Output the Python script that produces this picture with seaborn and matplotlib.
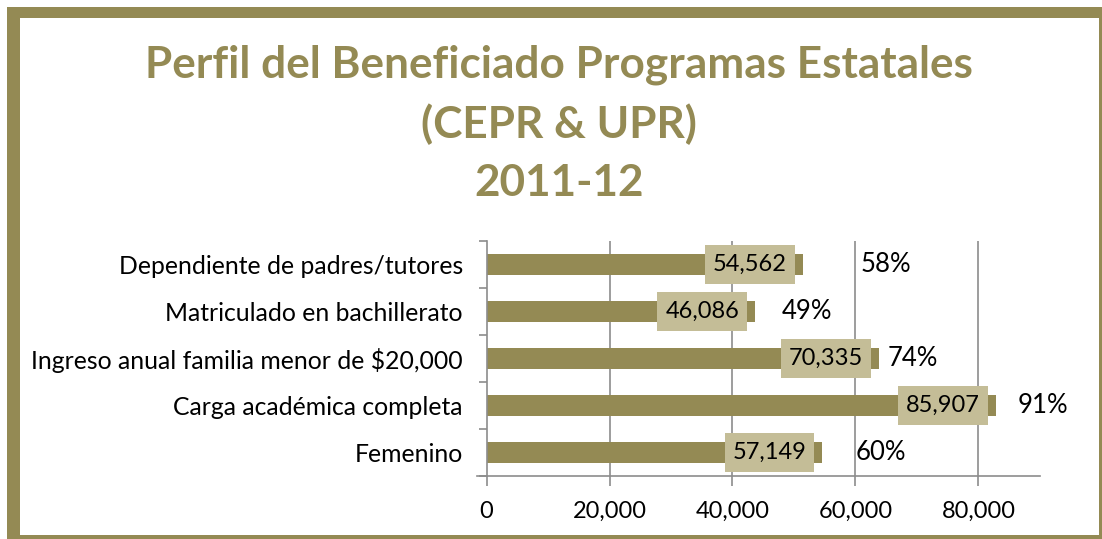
import matplotlib
matplotlib.use('Agg')
import matplotlib.pyplot as plt
import seaborn as sns
import pandas as pd
from matplotlib.patches import Rectangle

# data
categorias = ['Dependiente de padres/tutores',
              'Matriculado en bachillerato',
              'Ingreso anual familia menor de $20,000',
              'Carga académica completa',
              'Femenino']
largo_barra = [51450, 43700, 63760, 82820, 54630]
etiquetas_valor = ['54,562', '46,086', '70,335', '85,907', '57,149']
etiquetas_pct = ['58%', '49%', '74%', '91%', '60%']
x_ticks = [0, 20000, 40000, 60000, 80000]

# layout: gap (px) between bar end and the percent label
pct_gap_px = [58, 26, 9, 22, 33]
# label box size in data units (about 90 x 40 px)
caja_ancho = 14600
caja_alto = 0.85
caja_hueco = 1300

OLIVA = '#948a54'
TAN = '#c4bd97'
GRIS = '#8c8c8c'

sns.set_style('white')
plt.rcParams['font.family'] = ['Lato', 'DejaVu Sans']
plt.rcParams['text.color'] = 'black'
plt.rcParams['xtick.labelcolor'] = 'black'
plt.rcParams['ytick.labelcolor'] = 'black'

df = pd.DataFrame({'cat': categorias, 'valor': largo_barra})

W, H = 1102, 539
fig = plt.figure(figsize=(W / 100, H / 100), dpi=100)
ax = fig.add_axes([0.4415, 0.1169, 0.5022, 0.436])

sns.barplot(data=df, x='valor', y='cat', orient='h', color=OLIVA,
            width=0.43, saturation=1, linewidth=0, ax=ax)

ax.set_xlim(0, 90000)
ax.set_ylim(4.5, -0.5)
ax.set_xlabel('')
ax.set_ylabel('')
ax.set_xticks(x_ticks)
ax.set_xticklabels([f'{v:,}' for v in x_ticks], fontsize=17)
ax.set_yticks(range(len(categorias)))
ax.set_yticklabels(categorias, fontsize=17.8)
ax.set_yticks([i - 0.5 for i in range(len(categorias) + 1)], minor=True)
ax.tick_params(axis='y', which='major', length=0, pad=17)
ax.tick_params(axis='y', which='minor', length=6, width=1.2, color=GRIS)
ax.tick_params(axis='x', which='major', length=7, width=1.2, color=GRIS,
               pad=11, direction='out')
ax.xaxis.set_ticks_position('bottom')
ax.yaxis.set_ticks_position('left')

for v in x_ticks[1:]:
    ax.axvline(v, color=GRIS, lw=1.2, zorder=0)
for s in ['top', 'right']:
    ax.spines[s].set_visible(False)
for s in ['left', 'bottom']:
    ax.spines[s].set_color(GRIS)
    ax.spines[s].set_linewidth(1.2)
ax.spines['bottom'].set_bounds(-1500, 90000)

# value boxes (inside end) and percent labels
cajas_x = [lb - caja_hueco - caja_ancho for lb in largo_barra]
ax.barh(range(len(categorias)), [caja_ancho] * len(categorias), left=cajas_x,
        height=caja_alto, color=TAN, linewidth=0, zorder=3)
for i, (lb, val, pct) in enumerate(zip(largo_barra, etiquetas_valor, etiquetas_pct)):
    ax.text(cajas_x[i] + caja_ancho / 2, i, val, ha='center', va='center',
            fontsize=17, color='black', zorder=4)
    ax.annotate(pct, (lb, i), xytext=(pct_gap_px[i], 0), textcoords='offset pixels',
                ha='left', va='center', fontsize=18.5, color='black')

# title
titulo = ['Perfil del Beneficiado Programas Estatales', '(CEPR & UPR)', '2011-12']
for k, linea in enumerate(titulo):
    fig.text(0.507, 1 - (65 + 59 * k) / H, linea, ha='center', va='center',
             fontsize=31.8, fontweight='bold', color=OLIVA)

# thick frame, cut at right and bottom like the reference (pixel boxes, top-left origin)
marco = [(7, 7, 13, 532),      # left
         (7, 7, 1095, 11),     # top
         (1099, 7, 3, 532),    # right
         (7, 535, 1095, 4)]    # bottom
for x0, y0, w, h in marco:
    fig.patches.append(Rectangle((x0 / W, 1 - (y0 + h) / H), w / W, h / H,
                                 transform=fig.transFigure, fc=OLIVA, ec='none',
                                 zorder=10))

fig.savefig('out.png', dpi=100)
